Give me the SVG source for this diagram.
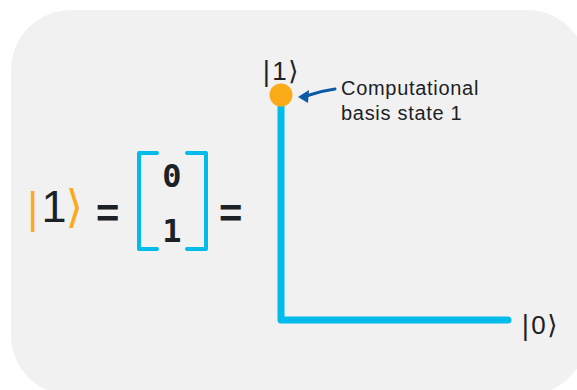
<svg xmlns="http://www.w3.org/2000/svg" width="577" height="390" viewBox="0 0 577 390">
  <style>
    .ink { fill: #1c2126; font-family: "Liberation Sans", "DejaVu Sans", sans-serif; }
    .ket { fill: #1c2126; font-family: "Liberation Sans", "DejaVu Sans", sans-serif; font-size: 26px; letter-spacing: 1.5px; }
    .br { font-family: "DejaVu Sans", sans-serif; }
    .org { fill: #fbab18; }
    .axis { stroke: #00bceb; stroke-width: 7; stroke-linecap: round; stroke-linejoin: round; fill: none; }
    .brk { stroke: #00bceb; stroke-width: 4; fill: none; stroke-linejoin: round; stroke-linecap: round; }
    .num { fill: #1c2126; font-family: "DejaVu Sans Mono", monospace; font-weight: bold; font-size: 32px; }
    .note { fill: #1c2126; font-family: "Liberation Sans", Arial, sans-serif; font-size: 20px; letter-spacing: 0.7px; }
  </style>

  <!-- background panel -->
  <rect x="11" y="10" width="576" height="385" rx="60" ry="60" fill="#f1f1f1"/>

  <!-- ket equation on the left -->
  <g id="equation">
    <text class="ink" x="26" y="222" font-size="45"><tspan class="org br" font-size="40">|</tspan><tspan dx="2">1</tspan><tspan class="org br" dx="-1">⟩</tspan></text>
    <text class="ink" x="96" y="227" font-size="40" font-weight="bold">=</text>
    <text class="ink" x="219" y="227" font-size="40" font-weight="bold">=</text>
  </g>

  <!-- column vector -->
  <g id="vector">
    <path class="brk" d="M157,153 H139 V249 H157"/>
    <path class="brk" d="M187,153 H206 V249 H187"/>
    <text class="num" x="172" y="187" text-anchor="middle">0</text>
    <text class="num" x="172" y="242" text-anchor="middle">1</text>
  </g>

  <!-- axes and callout arrow -->
  <g id="connectors">
    <path class="axis" d="M281,97 V320 H508"/>
    <path d="M335,89 Q320,91 306,96" stroke="#0b5aa8" stroke-width="3" fill="none" stroke-linecap="round"/>
    <path d="M298,97 L309,90 L308,103 Z" fill="#0b5aa8"/>
  </g>

  <!-- basis state point -->
  <g id="state-one">
    <circle cx="281" cy="95" r="11.5" fill="#fbab18"/>
    <text class="ket" x="262" y="80"><tspan class="br">|</tspan>1<tspan class="br">⟩</tspan></text>
  </g>

  <g id="label-zero">
    <text class="ket" x="521" y="334"><tspan class="br">|</tspan>0<tspan class="br">⟩</tspan></text>
  </g>

  <g id="callout">
    <text class="note" x="341" y="95">Computational</text>
    <text class="note" x="341" y="120">basis state 1</text>
  </g>
</svg>
